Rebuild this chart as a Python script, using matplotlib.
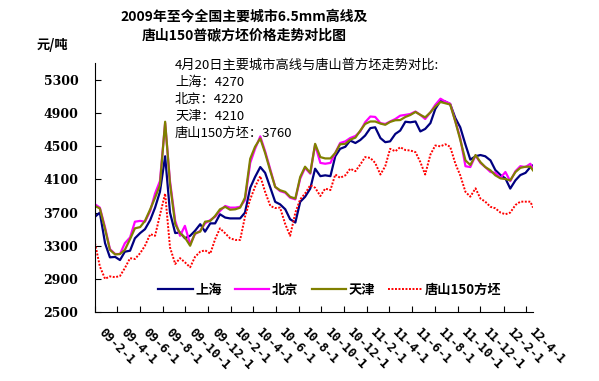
import matplotlib
matplotlib.use("Agg")
import matplotlib.pyplot as plt
import matplotlib.transforms as mtransforms
import pandas as pd

plt.rcParams['font.family'] = ['Noto Sans CJK SC', 'DejaVu Sans']

# sample dates (roughly every two weeks)
dates = pd.to_datetime([
    "2009-02-01", "2009-02-14", "2009-02-28", "2009-03-13", "2009-03-27", "2009-04-09",
    "2009-04-22", "2009-05-06", "2009-05-19", "2009-06-02", "2009-06-15", "2009-06-29",
    "2009-07-12", "2009-07-25", "2009-08-08", "2009-08-21", "2009-09-04", "2009-09-17",
    "2009-09-30", "2009-10-14", "2009-10-27", "2009-11-10", "2009-11-23", "2009-12-07",
    "2009-12-20", "2010-01-02", "2010-01-16", "2010-01-29", "2010-02-12", "2010-02-25",
    "2010-03-10", "2010-03-24", "2010-04-06", "2010-04-20", "2010-05-03", "2010-05-17",
    "2010-05-30", "2010-06-12", "2010-06-26", "2010-07-09", "2010-07-23", "2010-08-05",
    "2010-08-18", "2010-09-01", "2010-09-14", "2010-09-28", "2010-10-11", "2010-10-25",
    "2010-11-07", "2010-11-20", "2010-12-04", "2010-12-17", "2010-12-31", "2011-01-13",
    "2011-01-26", "2011-02-09", "2011-02-22", "2011-03-08", "2011-03-21", "2011-04-03",
    "2011-04-17", "2011-04-30", "2011-05-14", "2011-05-27", "2011-06-10", "2011-06-23",
    "2011-07-06", "2011-07-20", "2011-08-02", "2011-08-16", "2011-08-29", "2011-09-11",
    "2011-09-25", "2011-10-08", "2011-10-22", "2011-11-04", "2011-11-18", "2011-12-01",
    "2011-12-14", "2011-12-28", "2012-01-10", "2012-01-24", "2012-02-06", "2012-02-19",
    "2012-03-04", "2012-03-17", "2012-03-31", "2012-04-13", "2012-04-20",
])

shanghai = [
    3650, 3700, 3330, 3160, 3165, 3127, 3228, 3240, 3390, 3453, 3500, 3610,
    3760, 3950, 4380, 3700, 3453, 3460, 3390, 3420, 3480, 3560, 3470, 3570,
    3570, 3680, 3640, 3630, 3630, 3630, 3700, 4000, 4130, 4250, 4180, 4000,
    3830, 3800, 3740, 3620, 3580, 3830, 3890, 3990, 4230, 4140, 4150, 4140,
    4380, 4470, 4495, 4570, 4540, 4576, 4630, 4720, 4730, 4600, 4550, 4560,
    4650, 4690, 4797, 4790, 4800, 4680, 4710, 4780, 4950, 5050, 5040, 5010,
    4840, 4730, 4520, 4340, 4380, 4395, 4380, 4330, 4214, 4153, 4113, 3990,
    4090, 4153, 4180, 4250, 4270,
]
beijing = [
    3800, 3760, 3520, 3260, 3200, 3200, 3330, 3400, 3590, 3600, 3590, 3720,
    3930, 4080, 4780, 4080, 3600, 3420, 3540, 3320, 3440, 3480, 3570, 3610,
    3650, 3720, 3780, 3760, 3760, 3770, 3850, 4300, 4470, 4620, 4440, 4220,
    4010, 3960, 3940, 3880, 3860, 4110, 4240, 4170, 4520, 4300, 4290, 4300,
    4420, 4540, 4560, 4600, 4625, 4680, 4790, 4860, 4855, 4780, 4770, 4800,
    4830, 4870, 4880, 4890, 4920, 4880, 4830, 4910, 5000, 5075, 5040, 5015,
    4800, 4600, 4260, 4250, 4390, 4300, 4250, 4190, 4180, 4120, 4190, 4080,
    4200, 4260, 4250, 4290, 4220,
]
tianjin = [
    3780, 3750, 3500, 3250, 3195, 3200, 3250, 3380, 3510, 3525, 3600, 3740,
    3880, 4030, 4797, 4050, 3560, 3450, 3400, 3300, 3450, 3470, 3590, 3600,
    3660, 3740, 3770, 3735, 3740, 3760, 3880, 4350, 4495, 4596, 4420, 4200,
    4010, 3970, 3950, 3890, 3870, 4130, 4254, 4180, 4530, 4370, 4354, 4354,
    4420, 4525, 4530, 4580, 4605, 4690, 4770, 4800, 4800, 4775, 4760, 4795,
    4815, 4817, 4855, 4878, 4915, 4880, 4850, 4910, 4980, 5035, 5020, 5005,
    4797, 4580, 4330, 4275, 4395, 4310, 4250, 4210, 4150, 4113, 4105, 4090,
    4190, 4240, 4254, 4254, 4210,
]
tangshan = [
    3330, 3050, 2900, 2930, 2920, 2935, 3030, 3150, 3140, 3210, 3300, 3440,
    3420, 3670, 3930, 3280, 3080, 3150, 3100, 3040, 3165, 3228, 3245, 3205,
    3380, 3510, 3450, 3390, 3370, 3370, 3650, 3860, 4012, 4140, 3950, 3780,
    3755, 3760, 3560, 3420, 3700, 3860, 3930, 4030, 4000, 3900, 3990, 3972,
    4160, 4120, 4150, 4230, 4200, 4280, 4370, 4360, 4300, 4160, 4260, 4470,
    4440, 4490, 4455, 4450, 4430, 4310, 4160, 4400, 4510, 4500, 4525, 4495,
    4290, 4150, 3950, 3892, 3993, 3870, 3832, 3770, 3752, 3700, 3680, 3700,
    3792, 3832, 3832, 3832, 3760,
]

series_names = ["上海", "北京", "天津", "唐山150方坯"]

tick_dates = pd.to_datetime([
    "2009-02-01", "2009-04-01", "2009-06-01", "2009-08-01", "2009-10-01",
    "2009-12-01", "2010-02-01", "2010-04-01", "2010-06-01", "2010-08-01",
    "2010-10-01", "2010-12-01", "2011-02-01", "2011-04-01", "2011-06-01",
    "2011-08-01", "2011-10-01", "2011-12-01", "2012-02-01", "2012-04-01",
])
tick_labels = ["09-2-1", "09-4-1", "09-6-1", "09-8-1", "09-10-1", "09-12-1",
               "10-2-1", "10-4-1", "10-6-1", "10-8-1", "10-10-1", "10-12-1",
               "11-2-1", "11-4-1", "11-6-1", "11-8-1", "11-10-1", "11-12-1",
               "12-2-1", "12-4-1"]
y_ticks = [2500, 2900, 3300, 3700, 4100, 4500, 4900, 5300]

note_lines = ["4月20日主要城市高线与唐山普方坯走势对比:",
              "上海：4270", "北京：4220", "天津：4210", "唐山150方坯：3760"]

W, H = 599, 381
fig = plt.figure(figsize=(W / 100, H / 100), dpi=100)
ax = fig.add_axes([95 / W, 1 - 312 / H, 438 / W, 248.5 / H])

ax.plot(dates, shanghai, color="#000080", lw=1.6, label=series_names[0])
ax.plot(dates, beijing, color="#FF00FF", lw=1.6, label=series_names[1])
ax.plot(dates, tianjin, color="#808000", lw=1.6, label=series_names[2])
ax.plot(dates, tangshan, color="#FF0000", lw=1.4, ls=(0, (1, 0.8)), label=series_names[3])

ax.set_xlim(pd.Timestamp("2009-02-01"), pd.Timestamp("2012-04-20"))
ax.set_ylim(2500, 5500)
ax.set_yticks(y_ticks)
ax.set_yticklabels([str(v) for v in y_ticks], family="DejaVu Serif",
                   fontweight="bold", fontsize=9)
ax.set_xticks(tick_dates)
ax.set_xticklabels(tick_labels, family="DejaVu Sans Mono", fontweight="bold",
                   fontsize=9)
for spine in ["top", "right"]:
    ax.spines[spine].set_visible(False)
ax.tick_params(axis="y", direction="in", length=4, pad=12)
ax.tick_params(axis="x", direction="in", length=4, pad=10)

offset = mtransforms.ScaledTranslation(10 / 100, 0, fig.dpi_scale_trans)
for lab in ax.get_xticklabels():
    lab.set_rotation(-45)
    lab.set_rotation_mode("anchor")
    lab.set_ha("left")
    lab.set_va("top")
    lab.set_transform(lab.get_transform() + offset)

fig.text(244 / W, 1 - 16 / H, "2009年至今全国主要城市6.5mm高线及",
         ha="center", va="center", fontsize=10, fontweight="bold")
fig.text(244 / W, 1 - 35 / H, "唐山150普碳方坯价格走势对比图",
         ha="center", va="center", fontsize=10, fontweight="bold")
fig.text(37 / W, 1 - 45 / H, "元/吨", ha="left", va="center",
         fontsize=9.5, fontweight="bold")

for i, line in enumerate(note_lines):
    fig.text(175 / W, 1 - (65 + 17 * i) / H, line, ha="left", va="center",
             fontsize=9.5)

ax.legend(loc="center", bbox_to_anchor=(330 / W, 1 - 290 / H),
          bbox_transform=fig.transFigure, ncol=4, frameon=False,
          prop={"weight": "bold", "size": 9.5}, handlelength=2.6,
          handletextpad=0.2, columnspacing=1.0)

fig.savefig("out.png", dpi=100)
